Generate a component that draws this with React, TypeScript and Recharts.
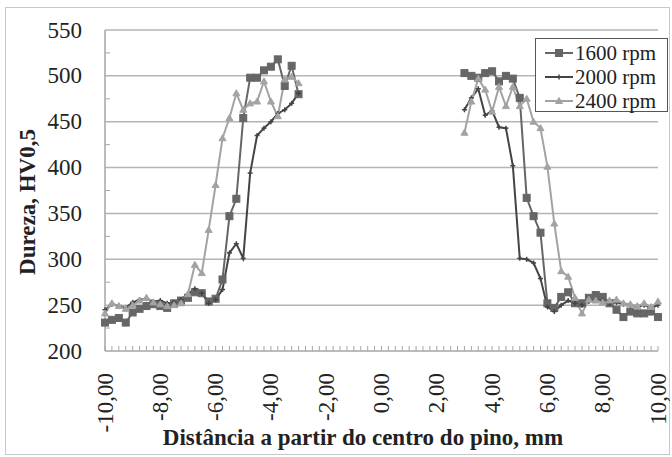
import { Line, LineChart, ReferenceLine, XAxis, YAxis } from "recharts";

// hardness profile, readings every 0,25 mm across the weld
const distances = Array.from({ length: 81 }, (_, i) => -10 + i * 0.25);
const xLabelValues = [-10, -8, -6, -4, -2, 0, 2, 4, 6, 8, 10];
const yTicks = [200, 225, 250, 275, 300, 325, 350, 375, 400, 425, 450, 475, 500, 525, 550];
const gridValues = [250, 300, 350, 400, 450, 500, 550];

// -10,00 .. -3,00 mm
const rpm1600Left = [231, 234, 236, 231, 242, 246, 249, 251, 249, 247, 252, 255, 258, 264, 263, 254, 257, 278, 347, 366, 454, 498, 498, 506, 510, 518, 489, 511, 480];
const rpm2000Left = [245, 251, 249, 247, 253, 256, 257, 254, 255, 252, 253, 256, 262, 268, 263, 252, 256, 267, 307, 317, 301, 394, 435, 443, 450, 459, 463, 470, 481];
const rpm2400Left = [241, 252, 249, 246, 250, 255, 258, 253, 251, 249, 250, 252, 262, 294, 285, 332, 381, 432, 454, 481, 463, 470, 472, 494, 472, 456, 496, 499, 492];

// 3,00 .. 10,00 mm
const rpm1600Right = [503, 500, 498, 503, 505, 494, 500, 497, 476, 367, 347, 329, 252, 247, 259, 264, 252, 252, 258, 261, 259, 252, 245, 237, 243, 241, 241, 243, 237];
const rpm2000Right = [463, 476, 486, 457, 462, 444, 443, 402, 301, 300, 296, 279, 248, 243, 250, 255, 252, 250, 254, 256, 255, 252, 253, 251, 250, 248, 250, 247, 250];
const rpm2400Right = [438, 472, 497, 485, 461, 488, 467, 488, 467, 475, 450, 443, 401, 339, 287, 281, 258, 241, 256, 255, 253, 255, 256, 252, 251, 249, 252, 248, 254];

const series = [
  { key: "rpm1600", name: "1600 rpm", left: rpm1600Left, right: rpm1600Right, color: "#666666", marker: "square" },
  { key: "rpm2000", name: "2000 rpm", left: rpm2000Left, right: rpm2000Right, color: "#444444", marker: "plus" },
  { key: "rpm2400", name: "2400 rpm", left: rpm2400Left, right: rpm2400Right, color: "#a3a3a3", marker: "triangle" },
];

const data = distances.map((d, i) => {
  const row: Record<string, number | null> = { d };
  for (const s of series) {
    row[s.key] = i < s.left.length ? s.left[i] : i >= 52 ? s.right[i - 52] : null;
  }
  return row;
});

const FONT = "'Liberation Serif', 'Times New Roman', serif";
const AXIS = "#a6a6a6";

function MarkerShape({ kind, x, y, color }: { kind: string; x: number; y: number; color: string }) {
  if (kind === "square") {
    return <rect x={x - 3.5} y={y - 3.5} width={7} height={7} fill={color} stroke={color} />;
  }
  if (kind === "triangle") {
    return <polygon points={`${x},${y - 3.5} ${x + 3.5},${y + 2.5} ${x - 3.5},${y + 2.5}`} fill={color} stroke={color} />;
  }
  return (
    <g stroke={color} strokeWidth={1.5}>
      <line x1={x - 2.5} x2={x + 2.5} y1={y} y2={y} />
      <line x1={x} x2={x} y1={y - 2.5} y2={y + 2.5} />
    </g>
  );
}

function renderDot(kind: string, color: string) {
  return (p: any) => {
    if (p.value == null || p.cy == null || Number.isNaN(p.cy)) return <g key={p.index} />;
    return (
      <g key={p.index}>
        <MarkerShape kind={kind} x={p.cx} y={p.cy} color={color} />
      </g>
    );
  };
}

function XTick({ x, y, payload }: any) {
  const v = payload.value as number;
  const major = xLabelValues.includes(v);
  return (
    <g>
      <line x1={x} x2={x} y1={y} y2={y - 5} stroke={AXIS} />
      {major && (
        <text
          x={x}
          y={y + 22}
          transform={`rotate(-90 ${x} ${y + 22})`}
          textAnchor="end"
          dominantBaseline="central"
          fontFamily={FONT}
          fontSize={23}
          fill="#222"
        >
          {v.toFixed(2).replace(".", ",")}
        </text>
      )}
    </g>
  );
}

function YTick({ x, y, payload }: any) {
  const v = payload.value as number;
  return (
    <g>
      {v % 50 !== 0 && <line x1={x} x2={x + 5} y1={y} y2={y} stroke={AXIS} />}
      {v % 50 === 0 && (
        <text x={x - 23} y={y} textAnchor="end" dominantBaseline="central" fontFamily={FONT} fontSize={23} fill="#222">
          {v}
        </text>
      )}
    </g>
  );
}

function LegendBox() {
  return (
    <div
      style={{
        position: "absolute",
        left: 535,
        top: 38,
        width: 133,
        height: 74,
        boxSizing: "border-box",
        border: "1.5px solid #555",
        background: "#fff",
        padding: "2px 0 0 8px",
        fontFamily: FONT,
        fontSize: 21,
        color: "#222",
        lineHeight: "24px",
      }}
    >
      {series.map((s) => (
        <div key={s.key} style={{ display: "flex", alignItems: "center", whiteSpace: "nowrap" }}>
          <svg width={30} height={14} style={{ marginRight: 1 }}>
            <line x1={1} x2={29} y1={7} y2={7} stroke={s.color} strokeWidth={2} />
            <MarkerShape kind={s.marker} x={15} y={7} color={s.color} />
          </svg>
          <span>{s.name}</span>
        </div>
      ))}
    </div>
  );
}

export default function App() {
  return (
    <div style={{ position: "absolute", left: 0, top: 0, width: 672, height: 457, background: "#fff" }}>
      <div
        style={{
          position: "absolute",
          left: 5,
          top: 7,
          width: 663,
          height: 446,
          border: "1px solid #c8c8c8",
        }}
      />
      <LineChart width={672} height={457} data={data} margin={{ top: 30, right: 14, bottom: 0, left: 0 }}>
        {gridValues.map((v) => (
          <ReferenceLine key={v} y={v} stroke="#b4b4b4" strokeWidth={1.5} />
        ))}
        <XAxis
          dataKey="d"
          type="number"
          domain={[-10, 10]}
          ticks={distances}
          interval={0}
          height={106}
          tickSize={0}
          tickMargin={0}
          tickLine={false}
          axisLine={{ stroke: AXIS, strokeWidth: 1.5 }}
          tick={<XTick />}
          label={{
            content: () => (
              <text x={363} y={445} textAnchor="middle" fontFamily={FONT} fontSize={23} fontWeight="bold" fill="#222">
                Distância a partir do centro do pino, mm
              </text>
            ),
          }}
        />
        <YAxis
          type="number"
          domain={[200, 550]}
          ticks={yTicks}
          interval={0}
          width={105}
          tickSize={0}
          tickMargin={0}
          tickLine={false}
          axisLine={{ stroke: AXIS, strokeWidth: 1.5 }}
          tick={<YTick />}
          label={{
            content: () => (
              <text
                x={27}
                y={202}
                transform="rotate(-90 27 202)"
                textAnchor="middle"
                dominantBaseline="central"
                fontFamily={FONT}
                fontSize={23}
                fontWeight="bold"
                fill="#222"
              >
                Dureza, HV0,5
              </text>
            ),
          }}
        />
        {series.map((s) => (
          <Line
            key={s.key}
            dataKey={s.key}
            name={s.name}
            stroke={s.color}
            strokeWidth={2}
            dot={renderDot(s.marker, s.color)}
            activeDot={false}
            isAnimationActive={false}
          />
        ))}
      </LineChart>
      <LegendBox />
    </div>
  );
}
